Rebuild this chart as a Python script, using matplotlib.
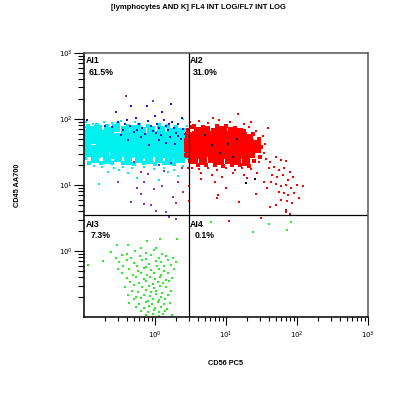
import numpy as np
import matplotlib.pyplot as plt

plt.rcParams['font.family'] = ['Liberation Sans', 'DejaVu Sans']

# all event coordinates are log10 values
cyan_core = [(-0.92,1.83),(-0.80,1.85),(-0.66,1.82),(-0.55,1.86),(-0.42,1.83),(-0.30,1.85),(-0.18,1.82),(-0.05,1.84),(0.08,1.83),(0.22,1.81),(0.34,1.80),
             (-0.97,1.76),(-0.86,1.74),(-0.75,1.77),(-0.64,1.75),(-0.53,1.73),(-0.42,1.76),(-0.31,1.74),(-0.20,1.75),(-0.09,1.73),(0.02,1.76),(0.13,1.74),(0.24,1.72),(0.35,1.74),(0.44,1.71),
             (-0.98,1.66),(-0.88,1.68),(-0.77,1.65),(-0.66,1.67),(-0.55,1.64),(-0.44,1.66),(-0.33,1.65),(-0.22,1.67),(-0.11,1.64),(0.00,1.66),(0.11,1.65),(0.22,1.67),(0.33,1.64),(0.43,1.66),
             (-0.96,1.57),(-0.85,1.55),(-0.74,1.58),(-0.63,1.56),(-0.52,1.57),(-0.41,1.55),(-0.30,1.58),(-0.19,1.56),(-0.08,1.57),(0.03,1.55),(0.14,1.58),(0.25,1.56),(0.36,1.57),(0.45,1.55),
             (-0.93,1.48),(-0.81,1.47),(-0.70,1.49),(-0.58,1.46),(-0.46,1.48),(-0.35,1.47),(-0.24,1.49),(-0.12,1.46),(-0.01,1.48),(0.10,1.47),(0.21,1.45),(0.32,1.48),(0.42,1.46),
             (-0.84,1.40),(-0.68,1.38),(-0.52,1.41),(-0.38,1.37),(-0.22,1.40),(-0.08,1.38),(0.06,1.39),(0.20,1.37),(0.33,1.40)]
cyan_edge = [(-0.95,1.90),(-0.82,1.91),(-0.68,1.89),(-0.52,1.92),(-0.38,1.90),(-0.22,1.91),(-0.10,1.90),(0.05,1.91),(0.18,1.89),(0.30,1.88),
             (0.42,1.83),(-0.93,1.34),(-0.76,1.33),(-0.60,1.34),(-0.45,1.33),(-0.30,1.32),(-0.15,1.33),(0.00,1.32),(0.13,1.33),(0.27,1.32),
             (0.40,1.36),(0.47,1.50),(-0.99,1.41),(-0.99,1.81),(0.46,1.62)]
cyan_sparse = [(-0.97,1.95),(-0.88,1.93),(-0.72,1.96),(-0.60,1.94),(-0.48,1.97),(-0.28,1.95),(-0.86,1.29),(-0.74,1.27),(-0.58,1.26),(-0.45,1.28),
               (-0.32,1.25),(-0.16,1.27),(-0.02,1.24),(0.12,1.26),(0.27,1.23),(0.40,1.29),(-0.66,1.20),(-0.38,1.18),(-0.10,1.16),(0.18,1.19),
               (0.33,1.13),(-0.25,1.10),(0.05,1.08),(-0.79,1.02),(0.40,2.00),(0.45,1.90),(-0.99,1.88),(-0.99,1.45),(0.47,1.40),(-0.50,1.22)]
blue_pts = [(-0.60,1.88),(-0.52,1.95),(-0.45,1.84),(-0.40,1.99),(-0.35,1.90),(-0.30,1.80),(-0.27,2.02),(-0.22,1.93),(-0.18,1.86),(-0.14,1.78),
            (-0.10,1.97),(-0.06,1.89),(-0.03,1.82),(0.00,2.05),(0.03,1.93),(0.06,1.86),(0.09,1.76),(0.12,1.99),(0.15,1.90),(0.18,1.83),
            (0.21,1.72),(0.24,1.95),(0.27,1.87),(0.30,1.79),(0.33,1.92),(0.36,1.70),(0.39,1.85),(0.42,1.78),(-0.48,1.76),(-0.20,1.72),
            (0.05,1.68),(0.28,1.62),(-0.08,1.60),(0.38,2.02),(-0.70,1.90),(-0.96,1.98),(-0.38,1.68),(0.16,1.64),(-0.55,2.10),(0.10,2.10),
            (-0.34,2.20),(-0.11,2.20),(0.23,2.23),(-0.25,1.84),(0.01,1.79),(0.20,1.93),(-0.42,1.93),(0.33,1.74)]
purple_pts = [(-0.20,1.20),(-0.10,1.17),(-0.15,1.05),(0.13,1.21),(-0.20,0.86),(-0.34,0.74),(0.01,0.61),(0.15,0.59),(-0.52,1.05),(0.32,1.05),
              (0.25,0.82),(-0.01,0.94),(-0.41,2.35),(-0.03,2.27),(-0.06,0.70),(-0.15,0.71),(0.20,0.52),(0.30,0.48),(0.30,0.73),(0.05,1.30),
              (0.38,1.25),(0.22,1.33),(-0.30,1.35),(0.10,0.98),(0.40,0.90),(-0.25,0.95),(0.45,1.60),(0.42,1.45)]
red_core = [(0.60,1.82),(0.72,1.84),(0.84,1.81),(0.96,1.83),(1.08,1.82),(1.18,1.80),
            (0.48,1.74),(0.58,1.75),(0.69,1.73),(0.80,1.76),(0.91,1.74),(1.02,1.75),(1.13,1.73),(1.24,1.74),(1.33,1.71),
            (0.47,1.65),(0.57,1.66),(0.68,1.64),(0.79,1.66),(0.90,1.65),(1.01,1.67),(1.12,1.64),(1.23,1.66),(1.34,1.64),(1.43,1.62),
            (0.46,1.56),(0.57,1.55),(0.68,1.57),(0.79,1.55),(0.90,1.56),(1.01,1.54),(1.12,1.57),(1.23,1.55),(1.34,1.56),(1.44,1.54),
            (0.48,1.47),(0.59,1.46),(0.70,1.48),(0.81,1.46),(0.92,1.47),(1.03,1.45),(1.14,1.47),(1.25,1.45),(1.35,1.47),
            (0.55,1.38),(0.68,1.37),(0.80,1.39),(0.92,1.36),(1.04,1.38),(1.16,1.37),(1.28,1.35)]
red_edge = [(0.55,1.90),(0.68,1.88),(0.88,1.89),(1.00,1.90),(1.12,1.87),(1.26,1.82),(1.38,1.77),(1.46,1.70),(1.50,1.57),(1.48,1.42),
            (1.40,1.36),(1.33,1.29),(1.20,1.30),(1.08,1.31),(0.96,1.29),(0.85,1.31),(0.72,1.30),(0.60,1.31),(0.50,1.36),(0.46,1.84),
            (0.52,1.88),(0.44,1.45),(0.44,1.66)]
red_sparse = [(0.50,1.95),(0.62,1.97),(0.75,1.94),(0.90,1.98),(1.05,1.95),(1.17,2.08),(1.25,1.92),(1.32,1.88),(1.42,1.82),(1.52,1.74),
              (1.55,1.62),(1.54,1.48),(1.47,1.35),(1.59,1.86),(0.52,1.25),(0.62,1.24),(0.75,1.25),(0.88,1.22),(1.00,1.25),(1.12,1.23),
              (1.22,1.25),(1.35,1.24),(0.65,1.18),(0.80,1.15),(0.95,1.12),(1.10,1.18),(0.65,1.09),(0.85,1.05),(1.00,0.95),(0.89,0.85),
              (0.87,0.80),(1.18,0.74),(1.42,0.86),(1.54,1.05),(1.30,1.10),(0.48,0.98),(0.48,0.76),(0.82,2.02),(0.46,1.25),(1.35,1.95),
              (1.56,1.40),(1.62,1.35),(1.70,1.42),(1.78,1.38),(1.85,1.36),(1.60,1.25),(1.68,1.28),(1.75,1.22),(1.82,1.26),(1.90,1.20),
              (1.65,1.15),(1.72,1.12),(1.80,1.15),(1.88,1.08),(1.95,1.12),(1.70,1.02),(1.77,0.98),(1.84,1.00),(1.92,0.95),(2.00,1.00),
              (1.74,0.90),(1.82,0.88),(1.88,0.85),(1.96,0.88),(2.08,0.98),(1.78,0.78),(1.86,0.75),(1.93,0.72),(1.70,0.70),(1.85,0.62),
              (1.85,0.59),(1.90,0.56),(1.62,0.66),(2.03,0.80),(1.58,0.95),(1.64,1.05),(1.04,0.45),(1.49,0.50),(1.44,1.18),(1.25,1.15)]
black_pts = [(0.80,1.60),(0.92,1.48),(1.03,1.62),(1.15,1.70),(1.28,1.03),(1.41,1.09),(0.70,1.75),(1.10,1.42)]
green_pts = [(0.07,0.18),(0.31,0.18),(-0.11,0.15),(-0.54,0.09),(-0.38,0.09),(-0.20,0.04),(0.02,0.05),
             (-0.62,-0.01),(-0.40,-0.04),(-0.28,0.00),(-0.12,-0.03),(-0.02,0.01),(0.10,-0.04),
             (-0.55,-0.10),(-0.47,-0.06),(-0.34,-0.11),(-0.21,-0.07),(-0.13,-0.12),(-0.05,-0.06),(0.05,-0.10),(0.15,-0.07),(0.25,-0.11),
             (-0.73,-0.15),(-0.50,-0.17),(-0.40,-0.13),(-0.29,-0.18),(-0.18,-0.14),(-0.09,-0.19),(0.01,-0.15),(0.09,-0.17),(0.19,-0.13),(0.30,-0.16),
             (-0.94,-0.21),(-0.45,-0.23),(-0.25,-0.22),(-0.13,-0.24),(0.03,-0.22),(0.13,-0.23),(0.23,-0.21),
             (-0.52,-0.28),(-0.37,-0.27),(-0.24,-0.30),(-0.15,-0.26),(-0.06,-0.29),(0.05,-0.27),(0.12,-0.31),(0.27,-0.28),
             (-0.46,-0.34),(-0.31,-0.36),(-0.20,-0.33),(-0.11,-0.37),(-0.01,-0.34),(0.09,-0.36),(0.18,-0.33),
             (-0.40,-0.41),(-0.27,-0.39),(-0.16,-0.43),(-0.07,-0.40),(0.00,-0.42),(0.07,-0.39),(0.15,-0.44),(0.24,-0.41),
             (-0.35,-0.47),(-0.23,-0.49),(-0.12,-0.46),(-0.03,-0.50),(0.04,-0.47),(0.11,-0.49),(0.20,-0.46),
             (-0.42,-0.54),(-0.29,-0.52),(-0.18,-0.55),(-0.09,-0.53),(-0.01,-0.56),(0.07,-0.53),(0.16,-0.55),
             (-0.33,-0.60),(-0.24,-0.62),(-0.13,-0.59),(-0.05,-0.62),(0.02,-0.60),(0.10,-0.63),(0.22,-0.60),
             (-0.38,-0.66),(-0.27,-0.69),(-0.16,-0.66),(-0.07,-0.68),(0.01,-0.65),(0.08,-0.69),(0.18,-0.67),
             (-0.30,-0.73),(-0.20,-0.71),(-0.10,-0.75),(-0.03,-0.72),(0.05,-0.74),(0.14,-0.72),
             (-0.36,-0.79),(-0.22,-0.81),(-0.13,-0.78),(-0.04,-0.80),(0.04,-0.77),(0.12,-0.81),(0.21,-0.79),
             (-0.27,-0.85),(-0.16,-0.87),(-0.08,-0.84),(0.00,-0.87),(0.08,-0.85),(0.17,-0.88),
             (-0.20,-0.91),(-0.10,-0.93),(-0.02,-0.90),(0.06,-0.93),(0.14,-0.91),
             (-0.12,-0.97),(-0.03,-0.95),(0.05,-0.98),(0.11,-0.96),(0.24,-0.97),
             (0.79,0.44),(1.61,0.41),(1.38,0.29),(1.86,0.32),(1.92,0.44)]

quad_names = ['AI1', 'AI2', 'AI3', 'AI4']
quad_pct = ['61.5%', '31.0%', '7.3%', '0.1%']
x_split = 3.0
y_split = 3.5


def lin(pts):
    a = 10 ** np.array(pts)
    return a[:, 0], a[:, 1]


fig = plt.figure(figsize=(3.99, 3.99), dpi=100)
ax = fig.add_axes([0.2105, 0.2055, 0.7118, 0.6617])
ax.set_xscale('log')
ax.set_yscale('log')
ax.set_xlim(0.1, 1000)
ax.set_ylim(0.1, 1000)

layers = [(cyan_core, '#00f0f0', 27), (cyan_edge, '#00f0f0', 10), (cyan_sparse, '#00f0f0', 3.5),
          (blue_pts, '#1515e8', 4), (purple_pts, '#9a28c0', 4),
          (red_core, '#ff0000', 27), (red_edge, '#ff0000', 10), (red_sparse, '#ff0000', 4),
          (black_pts, '#000000', 3), (green_pts, '#28ee28', 3.5)]
for pts, col, s in layers:
    x, y = lin(pts)
    ax.scatter(x, y, s=s, c=col, marker='s', linewidths=0)

ax.axvline(x_split, color='black', lw=0.9)
ax.axhline(y_split, color='black', lw=0.9)

for sp in ['left', 'bottom']:
    ax.spines[sp].set_color('black')
    ax.spines[sp].set_linewidth(1.1)
for sp in ['top', 'right']:
    ax.spines[sp].set_color('#555555')
    ax.spines[sp].set_linewidth(1.1)

majors = [1, 10, 100, 1000]
labels = ['$10^{0}$', '$10^{1}$', '$10^{2}$', '$10^{3}$']
minors = [m * 10.0 ** e for e in range(-1, 3) for m in range(2, 10)]
ax.set_xticks(majors)
ax.set_xticklabels(labels)
ax.set_yticks(majors)
ax.set_yticklabels(labels)
ax.set_xticks(minors, minor=True)
ax.set_yticks(minors, minor=True)
ax.set_xticklabels([], minor=True)
ax.set_yticklabels([], minor=True)
ax.tick_params(axis='x', which='major', length=6, width=0.8, labelsize=5, pad=3)
ax.tick_params(axis='x', which='minor', length=3, width=0.8)
ax.tick_params(axis='y', which='major', length=7, width=0.8, labelsize=5, pad=1)
ax.tick_params(axis='y', which='minor', length=4.5, width=0.8)

tx = [0.107, x_split * 1.03, 0.107, x_split * 1.03]
px = [0.118, x_split * 1.12, 0.123, x_split * 1.22]
ty = [760, 760, 2.56, 2.56]
py = [500, 500, 1.69, 1.69]
for i in range(4):
    ax.text(tx[i], ty[i], quad_names[i], fontsize=6.3, fontweight='bold', va='center', ha='left')
    ax.text(px[i], py[i], quad_pct[i], fontsize=6.3, fontweight='bold', va='center', ha='left')

fig.text(0.497, 0.982, '[lymphocytes AND K] FL4 INT LOG/FL7 INT LOG', fontsize=5.5,
         fontweight='bold', ha='center', va='center')
fig.text(0.566, 0.09, 'CD56 PC5', fontsize=5.3, fontweight='bold', ha='center', va='center')
fig.text(0.045, 0.536, 'CD45 AA700', fontsize=5.3, fontweight='bold', ha='center', va='center',
         rotation=90)

plt.savefig('out.png', dpi=100)
